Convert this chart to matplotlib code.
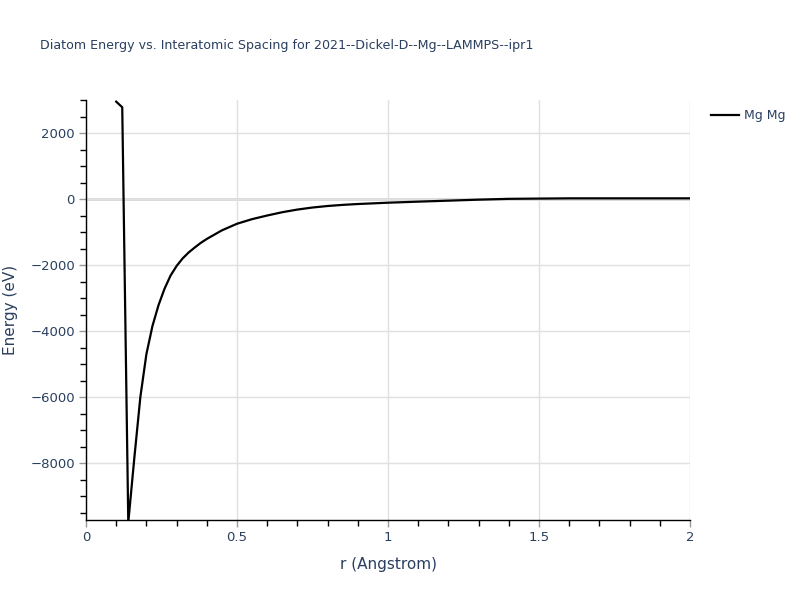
import numpy as np
import matplotlib.pyplot as plt
from matplotlib.ticker import MultipleLocator

# values
r = [0.10, 0.12, 0.14, 0.16, 0.18, 0.20, 0.22, 0.24, 0.26, 0.28, 0.30, 0.32,
     0.34, 0.36, 0.38, 0.40, 0.45, 0.50, 0.55, 0.60, 0.65, 0.70, 0.75, 0.80,
     0.85, 0.90, 1.00, 1.10, 1.20, 1.30, 1.40, 1.60, 1.80, 2.00]
energy = [2950, 2780, -9800, -7850, -6000, -4700, -3850, -3220, -2720, -2320,
          -2030, -1800, -1620, -1470, -1330, -1210, -950, -750, -610, -500,
          -400, -320, -258, -212, -178, -152, -112, -80, -50, -20, 5, 20, 20, 20]

title = "Diatom Energy vs. Interatomic Spacing for 2021--Dickel-D--Mg--LAMMPS--ipr1"
txt = '#2a3f5f'

fig = plt.figure(figsize=(8, 6), dpi=100)
ax = fig.add_axes([86/800, 1-520/600, (690-86)/800, 420/600])

ax.plot(r, energy, color='black', lw=1.6, label='Mg Mg')

ax.set_xlim(0, 2)
ax.set_ylim(-9727, 3000)

ax.xaxis.set_minor_locator(MultipleLocator(0.1))
ax.yaxis.set_minor_locator(MultipleLocator(500))
ax.set_xticks([0, 0.5, 1, 1.5, 2])
ax.set_xticklabels(['0', '0.5', '1', '1.5', '2'])
ax.set_yticks([-8000, -6000, -4000, -2000, 0, 2000])
ax.set_yticklabels(['\u22128000', '\u22126000', '\u22124000', '\u22122000', '0', '2000'])

ax.grid(True, which='major', color='#e0e0e0', lw=1)
ax.axhline(0, color='#d0d0d0', lw=1.8, zorder=0.5)
ax.set_axisbelow(True)

for s in ['top', 'right']:
    ax.spines[s].set_visible(False)
for s in ['left', 'bottom']:
    ax.spines[s].set_color('black')
    ax.spines[s].set_linewidth(1)

ax.tick_params(which='major', direction='out', length=5, width=1, color='#999999',
               labelcolor=txt, labelsize=9.5, pad=3)
ax.tick_params(which='minor', direction='out', length=4, width=1, color='black')

ax.set_xlabel('r (Angstrom)', color=txt, fontsize=11, labelpad=9)
ax.set_ylabel('Energy (eV)', color=txt, fontsize=11, labelpad=9)

fig.text(40/800, 1-46/600, title, color=txt, fontsize=9.1, va='center', ha='left')

fig.legend(loc='upper left', bbox_to_anchor=(700/800, 1-98/600), frameon=False,
           fontsize=9, labelcolor=txt, handlelength=2.2, handletextpad=0.4)

fig.savefig('out.png', dpi=100)
